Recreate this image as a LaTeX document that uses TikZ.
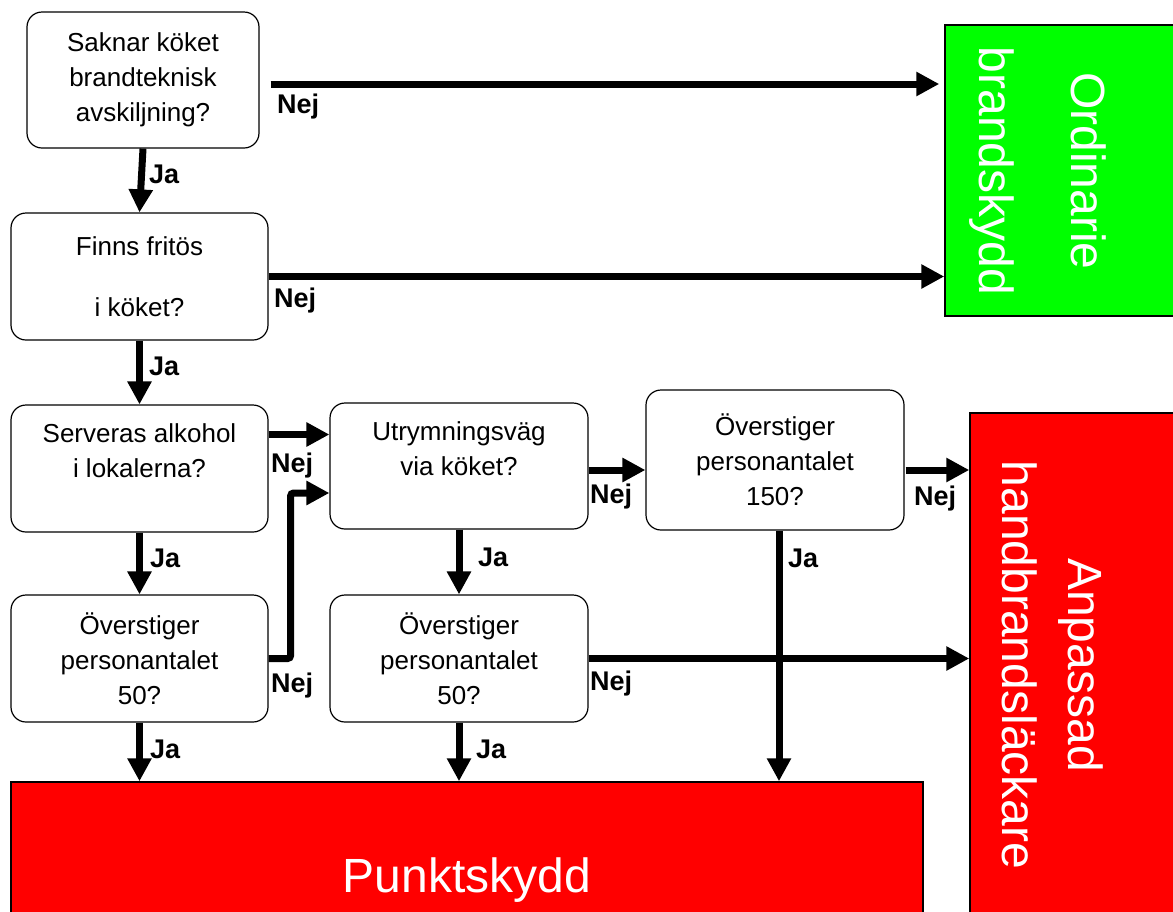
\documentclass[tikz,border=0pt]{standalone}
\usepackage{fontspec}
\setmainfont{Liberation Sans}
\usetikzlibrary{calc,arrows.meta}
\definecolor{okgreen}{HTML}{00FF00}
\definecolor{alarmred}{HTML}{FF0000}

\begin{document}
\begin{tikzpicture}[x=1pt,y=-1pt,
    question/.style={draw, line width=1.2pt, rounded corners=15pt, align=center,
      minimum width=257pt, minimum height=127pt, inner sep=0pt,
      font=\fontsize{26}{35}\selectfont},
    result/.style={draw, line width=1.5pt, inner sep=0pt},
    bigtext/.style={text=white, align=center, inner sep=0pt, font=\fontsize{48}{66}\selectfont},
    answer/.style={anchor=base west, inner sep=0pt, font=\bfseries\fontsize{27}{30}\selectfont},
    flow/.style={line width=7pt, -{Triangle[length=23pt,width=23pt]}}]
  \clip (0,0) rectangle (1173,911);

  \node[question, minimum width=232pt, minimum height=136pt] (avsk) at (143,80) {Saknar köket\\brandteknisk\\avskiljning?};
  \node[question] (frit) at (139.5,276.5) {Finns fritös\\[26pt]i köket?};
  \node[question] (alko) at (139.5,468.5) {Serveras alkohol\\i lokalerna?\\\mbox{}};
  \node[question] (pers50a) at (139.5,658.5) {Överstiger\\personantalet\\50?};
  \node[question, minimum width=258pt, minimum height=126pt] (utrym) at (459,466) {Utrymningsväg\\via köket?\\\mbox{}};
  \node[question, minimum width=258pt] (pers50b) at (459,658.5) {Överstiger\\personantalet\\50?};
  \node[question, minimum width=258pt, minimum height=140pt] (pers150) at (775,460) {Överstiger\\personantalet\\150?};

  \node[result, fill=okgreen, minimum width=250pt, minimum height=291pt] (ord) at (1070,170.5) {};
  \node[bigtext, rotate=-90] (ordtext) at (1038,171) {Ordinarie\\[26pt]brandskydd};
  \node[result, fill=alarmred, minimum width=250pt, minimum height=540pt] (anp) at (1095,683) {};
  \node[bigtext, rotate=-90] (anptext) at (1052.5,665) {Anpassad\\handbrandsläckare};
  \node[result, fill=alarmred, minimum width=912pt, minimum height=197pt, bigtext] (punkt) at (467,880.5) {Punktskydd};

  \coordinate (s1) at ($(avsk.east)+(11,4)$);
  \draw[flow] (s1) -- ($(s1 -| ord.west)+(-5,0)$);
  \draw[flow] (avsk.south) -- (frit.north);
  \draw[flow] (frit.east) -- (frit.east -| ord.west);
  \draw[flow] (frit.south) -- (alko.north);
  \coordinate (s2) at ($(alko.east)+(0,-34)$);
  \draw[flow] (s2) -- (s2 -| utrym.west);
  \draw[flow] (alko.south) -- (pers50a.north);
  \draw[flow, rounded corners=3pt] (pers50a.east) -- ++(22,0) |- ($(utrym.west)+(0,27)$);
  \draw[flow] (pers50a.south) -- (pers50a.south |- punkt.north);
  \coordinate (s3) at ($(utrym.east)+(0,4)$);
  \draw[flow] (s3) -- (s3 -| pers150.west);
  \draw[flow] (utrym.south) -- (pers50b.north);
  \draw[flow] (pers50b.south) -- (pers50b.south |- punkt.north);
  \draw[flow] (pers50b.east) -- (pers50b.east -| anp.west);
  \coordinate (s4) at ($(pers150.east)+(1,10)$);
  \draw[flow] (s4) -- (s4 -| anp.west);
  \coordinate (s5) at ($(pers150.south)+(4,0)$);
  \draw[flow] (s5) -- (s5 |- punkt.north);

  \foreach \n/\x/\y/\t in {nej1/277/113/Nej, ja1/149/183/Ja, nej2/274/307/Nej, ja2/149/375/Ja,
      nej3/271/472/Nej, ja3/150/567/Ja, nej4/271/692/Nej, ja4/150/758/Ja,
      nej5/590/503/Nej, ja5/478/566/Ja, nej6/590/690/Nej, ja6/476/758/Ja,
      nej7/914/505/Nej, ja7/788/567/Ja}
    \node[answer] (\n) at (\x,\y) {\t};
\end{tikzpicture}
\end{document}
